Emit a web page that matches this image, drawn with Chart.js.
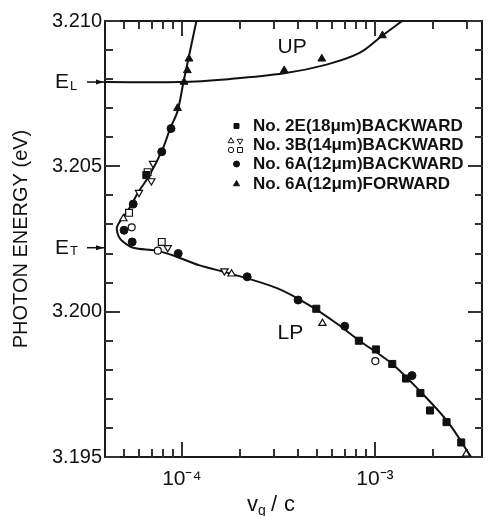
<!DOCTYPE html>
<html lang="en">
<head>
    <meta charset="UTF-8">
    <title>Photon energy vs group velocity</title>
    <style>
        body { margin: 0; background: #fff; }
        .wrap { width: 489px; height: 516px; position: relative; }
    </style>
</head>
<body>
<div class="wrap"><canvas id="chart"></canvas></div>

<script src="https://cdn.jsdelivr.net/npm/chart.js@4.4.1/dist/chart.umd.min.js"></script>
<script>
    // --- data (x = vg/c, y = photon energy in eV) ---
    const lpCurveX = [1.19e-4, 1.02e-4, 9.5e-5, 8.7e-5, 7.96e-5, 6.81e-5, 5.94e-5, 5.28e-5, 4.89e-5, 4.61e-5, 4.70e-5, 4.98e-5, 5.60e-5, 7.37e-5, 9.32e-5, 1.225e-4, 1.81e-4, 3.13e-4, 4.63e-4, 6.32e-4, 8.32e-4, 1.23e-3, 1.75e-3, 2.39e-3, 3.15e-3];
    const lpCurveY = [3.2100, 3.2079, 3.2069, 3.2063, 3.2056, 3.2047, 3.2041, 3.2035, 3.2032, 3.2029, 3.2026, 3.2024, 3.2022, 3.2021, 3.2019, 3.2016, 3.2013, 3.2008, 3.2002, 3.1996, 3.1990, 3.1982, 3.1972, 3.1962, 3.1950];
    const upCurveX = [4.0e-5, 9.7e-5, 1.74e-4, 3.39e-4, 5.62e-4, 8.32e-4, 1.094e-3, 1.384e-3];
    const upCurveY = [3.2079, 3.2079, 3.2080, 3.2082, 3.2085, 3.2089, 3.2095, 3.2100];

    const s2eX = [6.55e-5, 4.97e-4, 8.26e-4, 1.012e-3, 1.23e-3, 1.45e-3, 1.72e-3, 1.93e-3, 2.35e-3, 2.8e-3];
    const s2eY = [3.2047, 3.2001, 3.1990, 3.1987, 3.1982, 3.1977, 3.1972, 3.1966, 3.1962, 3.1955];

    const s3bUpX = [4.98e-5, 1.81e-4, 5.35e-4, 2.97e-3];
    const s3bUpY = [3.2032, 3.2013, 3.1996, 3.1951];
    const s3bDownX = [7.09e-5, 6.95e-5, 6.0e-5, 8.45e-5, 1.662e-4];
    const s3bDownY = [3.2051, 3.2045, 3.2041, 3.2022, 3.2014];
    const s3bCircleX = [5.5e-5, 7.51e-5, 1.005e-3];
    const s3bCircleY = [3.2029, 3.2021, 3.1983];
    const s3bSquareX = [5.33e-5, 7.87e-5, 6.65e-5];
    const s3bSquareY = [3.2034, 3.2024, 3.2048];

    const s6aBackX = [8.79e-5, 7.87e-5, 5.6e-5, 5.02e-5, 5.53e-5, 9.58e-5, 2.18e-4, 4.0e-4, 6.98e-4, 1.556e-3];
    const s6aBackY = [3.2063, 3.2055, 3.2037, 3.2028, 3.2024, 3.2020, 3.2012, 3.2004, 3.1995, 3.1978];
    const s6aFwdX = [1.089e-4, 1.068e-4, 1.027e-4, 9.5e-5, 3.39e-4, 5.31e-4, 1.094e-3];
    const s6aFwdY = [3.2087, 3.2083, 3.2079, 3.2070, 3.2083, 3.2087, 3.2095];

    const E_L = 3.2079;
    const E_T = 3.2022;

    const yLabelValues = [3.195, 3.200, 3.205, 3.210];
    const yMinorValues = [3.196, 3.197, 3.198, 3.199, 3.201, 3.202, 3.203, 3.204, 3.206, 3.207, 3.208, 3.209];
    const xMajorValues = [1e-4, 1e-3];
    const xMinorValues = [5e-5, 6e-5, 7e-5, 8e-5, 9e-5, 2e-4, 3e-4, 4e-4, 5e-4, 6e-4, 7e-4, 8e-4, 9e-4, 2e-3, 3e-3];
    const xTickLabels = { 0.0001: '10\u207B\u2074', 0.001: '10\u207B\u00B3' };

    const legendLabels = ['No. 2E(18\u03BCm)BACKWARD', 'No. 3B(14\u03BCm)BACKWARD', 'No. 6A(12\u03BCm)BACKWARD', 'No. 6A(12\u03BCm)FORWARD'];

    const FONT = "'Liberation Sans', Arial, sans-serif";
    const INK = '#111';
    const pts = (xs, ys) => xs.map((x, i) => ({ x: x, y: ys[i] }));

    function markerSet(xs, ys, style, filled, radius, rotation) {
        return {
            data: pts(xs, ys),
            pointStyle: style,
            pointRadius: radius,
            pointRotation: rotation || 0,
            pointBackgroundColor: filled ? INK : '#fff',
            pointBorderColor: INK,
            pointBorderWidth: filled ? 1 : 1.2,
            showLine: false,
            order: 1
        };
    }

    function curveSet(xs, ys) {
        return {
            data: pts(xs, ys),
            showLine: true,
            pointRadius: 0,
            borderColor: INK,
            borderWidth: 2,
            tension: 0.35,
            order: 5
        };
    }

    // frame and inward tick marks, drawn before the data
    const framePlugin = {
        id: 'frame',
        beforeDatasetsDraw(chart) {
            const ctx = chart.ctx;
            const area = chart.chartArea;
            const xs = chart.scales.x, ys = chart.scales.y;
            const L = Math.round(area.left), R = Math.round(area.right);
            const T = Math.round(area.top), B = Math.round(area.bottom);
            ctx.save();
            ctx.fillStyle = '#1a1a1a';
            ctx.fillRect(L, T - 1, R - L, 2);
            ctx.fillRect(L, B - 1, R - L, 2);
            ctx.fillRect(L - 1, T - 1, 2, B - T + 2);
            ctx.fillRect(R - 2, T - 1, 2, B - T + 2);
            ctx.fillStyle = '#333';
            const yTick = (v, len) => {
                const py = Math.round(ys.getPixelForValue(v)) - 1;
                ctx.fillRect(L, py, len, 2);
                ctx.fillRect(R - len, py, len, 2);
            };
            const xTick = (v, len) => {
                const px = Math.round(xs.getPixelForValue(v)) - 1;
                ctx.fillRect(px, B - len, 2, len);
                ctx.fillRect(px, T, 2, len);
            };
            yLabelValues.forEach(v => yTick(v, 15));
            yMinorValues.forEach(v => yTick(v, 8));
            xMajorValues.forEach(v => xTick(v, 15));
            xMinorValues.forEach(v => xTick(v, 8));
            ctx.restore();
        }
    };

    // E labels, branch labels, legend and x title
    const textPlugin = {
        id: 'texts',
        afterDraw(chart) {
            const { ctx, scales: { x, y } } = chart;
            ctx.save();
            ctx.fillStyle = INK;
            [[E_L, 'L'], [E_T, 'T']].forEach(([v, sub]) => {
                const py = y.getPixelForValue(v);
                ctx.font = '21px ' + FONT;
                ctx.textAlign = 'left';
                ctx.textBaseline = 'middle';
                ctx.fillText('E', 55, py);
                ctx.font = '13px ' + FONT;
                ctx.fillText(sub, 70, py + 4);
                ctx.fillRect(87, py - 0.75, 18, 1.5);
                ctx.beginPath();
                ctx.moveTo(104, py); ctx.lineTo(96, py - 2.5); ctx.lineTo(96, py + 2.5);
                ctx.closePath(); ctx.fill();
            });

            ctx.font = '21px ' + FONT;
            ctx.textAlign = 'center';
            ctx.fillText('UP', x.getPixelForValue(3.73e-4), y.getPixelForValue(3.20911));
            ctx.fillText('LP', x.getPixelForValue(3.65e-4), y.getPixelForValue(3.19927));

            ctx.textAlign = 'left';
            ctx.font = '22px ' + FONT;
            ctx.fillText('v', 247, 505);
            ctx.font = '14px ' + FONT;
            ctx.fillText('g', 258, 511);
            ctx.font = '22px ' + FONT;
            ctx.fillText('/', 271, 505);
            ctx.fillText('c', 284, 505);

            const draw = (style, filled, r, px, py, rot) => {
                ctx.fillStyle = filled ? INK : '#fff';
                ctx.strokeStyle = INK;
                ctx.lineWidth = 1;
                Chart.helpers.drawPoint(ctx, { pointStyle: style, radius: r, rotation: rot || 0, borderWidth: 1 }, px, py);
            };
            draw('rect', true, 3.5, 236.5, 126);
            draw('triangle', false, 3.3, 231, 141);
            draw('triangle', false, 3.3, 240, 141, 180);
            draw('circle', false, 2.7, 231, 150);
            draw('rect', false, 3.5, 240, 150);
            draw('circle', true, 3, 236.5, 164);
            draw('triangle', true, 3.5, 236.5, 184);
            ctx.fillStyle = INK;
            ctx.font = 'bold 17px ' + FONT;
            ctx.textBaseline = 'middle';
            [126, 145, 164, 184].forEach((py, i) => ctx.fillText(legendLabels[i], 253, py));
            ctx.restore();
        }
    };

    new Chart(document.getElementById('chart'), {
        type: 'scatter',
        data: {
            datasets: [
                markerSet(s2eX, s2eY, 'rect', true, 5),
                markerSet(s3bUpX, s3bUpY, 'triangle', false, 4.2),
                markerSet(s3bDownX, s3bDownY, 'triangle', false, 4.2, 180),
                markerSet(s3bCircleX, s3bCircleY, 'circle', false, 3.5),
                markerSet(s3bSquareX, s3bSquareY, 'rect', false, 4.8),
                markerSet(s6aBackX, s6aBackY, 'circle', true, 4),
                markerSet(s6aFwdX, s6aFwdY, 'triangle', true, 4.5),
                curveSet(lpCurveX, lpCurveY),
                curveSet(upCurveX, upCurveY)
            ]
        },
        options: {
            responsive: true,
            maintainAspectRatio: false,
            animation: false,
            layout: { padding: { top: 21, right: 0, left: 0, bottom: 0 } },
            plugins: { legend: { display: false }, tooltip: { enabled: false } },
            scales: {
                x: {
                    type: 'logarithmic',
                    min: 4.0e-5,
                    max: 3.63e-3,
                    grid: { display: false, drawTicks: false },
                    border: { display: false },
                    afterBuildTicks: s => { s.ticks = xMajorValues.concat(xMinorValues).sort((a, b) => a - b).map(v => ({ value: v })); },
                    afterFit: s => { s.height = 59; },
                    ticks: {
                        autoSkip: false,
                        maxRotation: 0,
                        padding: 10,
                        color: INK,
                        font: { family: FONT, size: 21 },
                        callback: v => xTickLabels[v] || ''
                    }
                },
                y: {
                    min: 3.195,
                    max: 3.210,
                    grid: { display: false, drawTicks: false },
                    border: { display: false },
                    afterBuildTicks: s => { s.ticks = yLabelValues.map(v => ({ value: v })); },
                    afterFit: s => { s.width = 105; },
                    title: {
                        display: true,
                        text: 'PHOTON ENERGY (eV)',
                        color: INK,
                        font: { family: FONT, size: 20 },
                        padding: { top: 9, bottom: 0 }
                    },
                    ticks: {
                        padding: 3,
                        color: INK,
                        font: { family: FONT, size: 20 },
                        callback: v => v.toFixed(3)
                    }
                }
            }
        },
        plugins: [framePlugin, textPlugin]
    });
</script>
</body>
</html>
